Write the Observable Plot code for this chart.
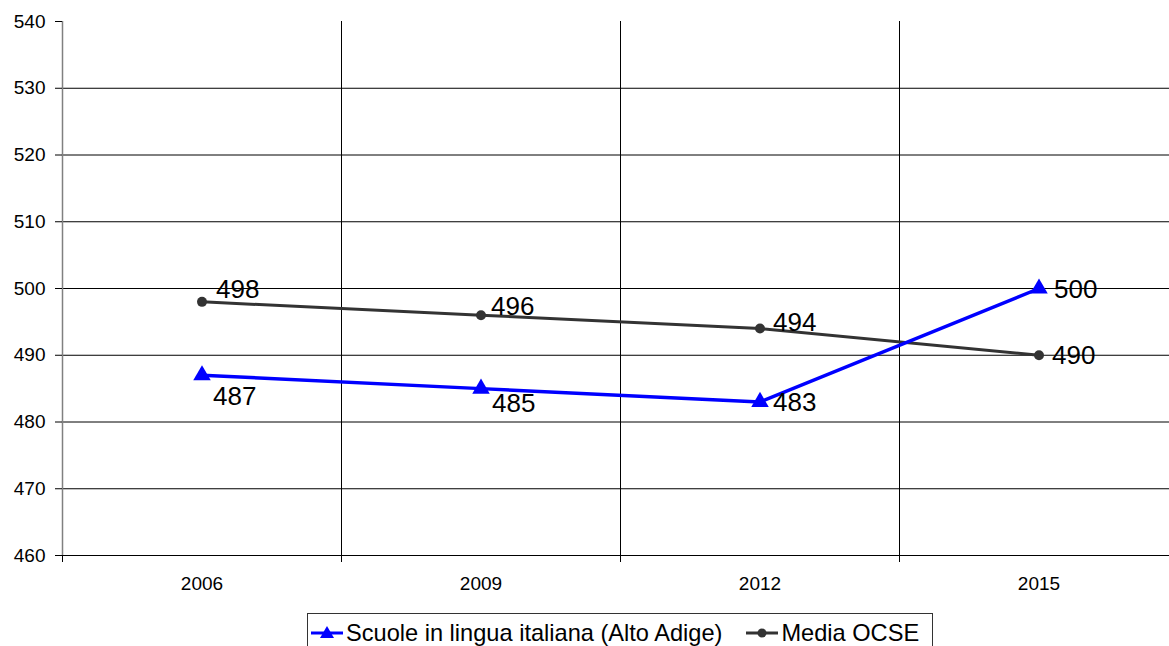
<!DOCTYPE html>
<html>
<head>
<meta charset="utf-8">
<script src="https://cdn.jsdelivr.net/npm/d3@7"></script>
<script src="https://cdn.jsdelivr.net/npm/@observablehq/plot@0.6"></script>
<style>
  html, body { margin: 0; padding: 0; background: #fff; overflow: hidden; }
  body { width: 1169px; height: 646px; position: relative; font-family: "Liberation Sans", Arial, sans-serif; }
  #legend {
    position: absolute; left: 307px; top: 613px; width: 626px; height: 40px;
    border: 1px solid #333; box-sizing: border-box; background: #fff;
    display: flex; align-items: center; font-size: 23.6px; color: #000; white-space: nowrap;
  }
  #legend .item { display: flex; align-items: center; }
  #legend svg { display: block; }
</style>
</head>
<body>
<div id="chart"></div>
<div id="legend"></div>
<script>
// ---- data ----
const years = [2006, 2009, 2012, 2015];
const italiana = [487, 485, 483, 500];
const ocse = [498, 496, 494, 490];
const seriesNames = ["Scuole in lingua italiana (Alto Adige)", "Media OCSE"];
const yTicks = [460, 470, 480, 490, 500, 510, 520, 530, 540];
const categoryEdges = [2004.5, 2007.5, 2010.5, 2013.5];

// ---- table ----
const rows = [];
years.forEach((yr, i) => {
  rows.push({year: yr, value: italiana[i], series: seriesNames[0], i});
  rows.push({year: yr, value: ocse[i], series: seriesNames[1], i});
});
const itRows = rows.filter(d => d.series === seriesNames[0]);
const ocRows = rows.filter(d => d.series === seriesNames[1]);

const BLUE = "#0000ff";
const GRAY = "#333333";

// label offsets (style, per point)
const itOffsets = [[11, 21], [11, 15], [13, 1], [15, 1]];
const ocOffsets = [[14, -12], [10, -9], [13, -6], [13, 0]];
const labelMarks = [];
itRows.forEach((d, k) => labelMarks.push(Plot.text([d], {x: "year", y: "value", text: d => String(d.value), textAnchor: "start", dx: itOffsets[k][0], dy: itOffsets[k][1], fontSize: 26, fill: "#000"})));
ocRows.forEach((d, k) => labelMarks.push(Plot.text([d], {x: "year", y: "value", text: d => String(d.value), textAnchor: "start", dx: ocOffsets[k][0], dy: ocOffsets[k][1], fontSize: 26, fill: "#000"})));

const chart = Plot.plot({
  width: 1169,
  height: 600,
  marginLeft: 62,
  marginRight: 0,
  marginTop: 21,
  marginBottom: 45,
  style: {fontFamily: "'Liberation Sans', Arial, sans-serif", fontSize: "19px", color: "#000", background: "#fff", overflow: "visible"},
  x: {type: "linear", domain: [2004.5, 2016.5], range: [62, 1178]},
  y: {domain: [460, 540]},
  marks: [
    Plot.gridY(yTicks.filter(v => v < 540), {stroke: "#000", strokeOpacity: 1, strokeWidth: 1}),
    Plot.ruleX(categoryEdges.slice(1), {y1: 540, y2: 460, stroke: "#000", strokeWidth: 1}),
    Plot.ruleX(categoryEdges.slice(0, 1), {y1: 540, y2: 460, stroke: "#808080", strokeWidth: 1.5}),
    Plot.axisX(categoryEdges, {tickSize: 7, tickFormat: () => "", stroke: "#000", label: null}),
    Plot.axisX(years, {tickSize: 0, tickPadding: 21, tickFormat: "d", label: null, fontSize: 19}),
    Plot.axisY(yTicks, {tickSize: 7, tickPadding: 10, label: null, fontSize: 19, stroke: "#000"}),
    Plot.line(ocRows, {x: "year", y: "value", stroke: GRAY, strokeWidth: 3}),
    Plot.line(itRows, {x: "year", y: "value", stroke: BLUE, strokeWidth: 3.5}),
    Plot.dot(ocRows, {x: "year", y: "value", r: 5, fill: GRAY, stroke: "none"}),
    Plot.dot(itRows, {x: "year", y: "value", r: 6.5, symbol: "triangle", fill: BLUE, stroke: "none"}),
    ...labelMarks
  ]
});
document.getElementById("chart").appendChild(chart);

// ---- legend ----
const legend = d3.select("#legend");
function swatch(color, kind, w) {
  const s = legend.append("span").attr("class", "item");
  const svg = s.append("svg").attr("width", w).attr("height", 20);
  svg.append("line").attr("x1", 3).attr("x2", w - 3).attr("y1", 10).attr("y2", 10).attr("stroke", color).attr("stroke-width", 3);
  if (kind === "triangle") {
    const cx = w / 2;
    svg.append("path").attr("d", `M${cx},${3} L${cx + 7},${15} L${cx - 7},${15} Z`).attr("fill", color);
  } else {
    svg.append("circle").attr("cx", w / 2).attr("cy", 10).attr("r", 4.5).attr("fill", color);
  }
  return s;
}
const s1 = swatch(BLUE, "triangle", 38);
s1.append("span").text(seriesNames[0]);
const s2 = swatch(GRAY, "circle", 38);
s2.style("margin-left", "21px");
s2.append("span").text(seriesNames[1]);
</script>
</body>
</html>
